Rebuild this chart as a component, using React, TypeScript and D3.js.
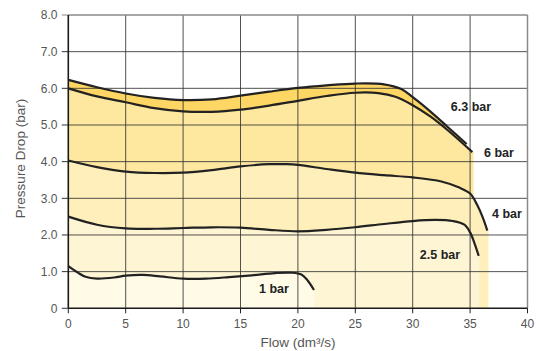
import React from "react";
import * as d3 from "d3";

const xTicks = [0, 5, 10, 15, 20, 25, 30, 35, 40];
const yTicks = [0, 1, 2, 3, 4, 5, 6, 7, 8];
const yTickLabels = ["0", "1.0", "2.0", "3.0", "4.0", "5.0", "6.0", "7.0", "8.0"];

const seriesNames = ["6.3 bar", "6 bar", "4 bar", "2.5 bar", "1 bar"];

const flow63 = [0, 2.5, 5, 7.5, 10, 12.5, 15, 17.5, 20, 22.5, 25, 27.5, 29, 30, 31.5, 33, 34.7];
const drop63 = [6.23, 6.03, 5.86, 5.74, 5.68, 5.7, 5.8, 5.91, 6.01, 6.08, 6.13, 6.11, 5.98, 5.76, 5.38, 4.96, 4.48];

const flow6 = [0, 2.5, 5, 7.5, 10, 12.5, 15, 17.5, 20, 22.5, 25, 27, 28.5, 30, 31.5, 33, 35.2];
const drop6 = [6.0, 5.78, 5.62, 5.46, 5.37, 5.36, 5.42, 5.53, 5.66, 5.79, 5.88, 5.87, 5.77, 5.54, 5.24, 4.87, 4.26];

const flow4 = [0, 2.5, 5, 7.5, 10, 12.5, 15, 17.5, 19, 20, 22.5, 25, 27.5, 30, 32.5, 34, 35, 35.6, 36.1, 36.5];
const drop4 = [4.03, 3.85, 3.73, 3.69, 3.7, 3.77, 3.87, 3.93, 3.93, 3.91, 3.8, 3.7, 3.63, 3.57, 3.46, 3.3, 3.13, 2.83, 2.48, 2.12];

const flow25 = [0, 2.5, 5, 7.5, 10, 12.5, 15, 17.5, 20, 22.5, 25, 27.5, 30, 32, 33.5, 34.5, 35, 35.4, 35.75];
const drop25 = [2.5, 2.28, 2.18, 2.17, 2.19, 2.21, 2.2, 2.14, 2.1, 2.14, 2.21, 2.3, 2.38, 2.41, 2.38, 2.28, 2.07, 1.76, 1.43];

const flow1 = [0, 0.8, 1.5, 2.5, 4, 5, 6.5, 8, 10, 12, 14, 16, 18, 19.5, 20.3, 20.8, 21.4];
const drop1 = [1.15, 0.98, 0.86, 0.81, 0.84, 0.89, 0.91, 0.87, 0.81, 0.81, 0.85, 0.9, 0.96, 0.97, 0.92, 0.78, 0.5];

const fillEnds = [34.7, 35.3, 36.6, 35.8, 21.45];
const fillColors = ["#fed663", "#fee89f", "#feefbb", "#fef5d4", "#fffbe6"];

const labelPos = [
  { x: 471, y: 111 },
  { x: 499, y: 157 },
  { x: 507, y: 218 },
  { x: 440, y: 259 },
  { x: 274, y: 293 },
];

export default function App() {
  const W = 540;
  const H = 351;
  const x = d3.scaleLinear().domain([0, 40]).range([68.3, 527.5]);
  const y = d3.scaleLinear().domain([0, 8]).range([308.3, 15]);

  const series = [
    [flow63, drop63],
    [flow6, drop6],
    [flow4, drop4],
    [flow25, drop25],
    [flow1, drop1],
  ].map(([fx, fy]) => fx.map((v, i) => [v, fy[i]] as [number, number]));

  const line = d3
    .line<[number, number]>()
    .x((d) => x(d[0]))
    .y((d) => y(d[1]))
    .curve(d3.curveCatmullRom.alpha(0.5));

  const areaPath = (pts: [number, number][], end: number) => {
    const l = line(pts) as string;
    const last = pts[pts.length - 1];
    return `${l}L${x(end)},${y(last[1])}L${x(end)},${y(0)}L${x(0)},${y(0)}Z`;
  };

  const font = "'Liberation Sans', Arial, Helvetica, sans-serif";

  return (
    <svg
      width={W}
      height={H}
      style={{ position: "absolute", left: 0, top: 0, background: "#fff" }}
    >
      {series.map((pts, i) => (
        <path key={"f" + i} d={areaPath(pts, fillEnds[i])} fill={fillColors[i]} stroke="none" />
      ))}
      {/* grid */}
      {yTicks.slice(1, -1).map((t) => (
        <line key={"gy" + t} x1={x(0)} x2={x(40)} y1={y(t)} y2={y(t)} stroke="#333" strokeOpacity={0.85} strokeWidth={1} />
      ))}
      {xTicks.slice(1, -1).map((t) => (
        <line key={"gx" + t} x1={x(t)} x2={x(t)} y1={y(0)} y2={y(8)} stroke="#333" strokeOpacity={0.85} strokeWidth={1} />
      ))}
      <line x1={x(0)} x2={x(40)} y1={y(8)} y2={y(8)} stroke="#8a8a8a" strokeWidth={1.5} />
      <line x1={x(40)} x2={x(40)} y1={y(0)} y2={y(8)} stroke="#8a8a8a" strokeWidth={1.5} />
      {/* ticks */}
      {yTicks.map((t) => (
        <line key={"ty" + t} x1={x(0) - 6.5} x2={x(0)} y1={y(t)} y2={y(t)} stroke={t === 8 ? "#8a8a8a" : "#333"} strokeWidth={1} />
      ))}
      {xTicks.map((t) => (
        <line key={"tx" + t} x1={x(t)} x2={x(t)} y1={y(0)} y2={y(0) + 5} stroke="#222" strokeWidth={1} />
      ))}
      {/* axes */}
      <line x1={x(0)} x2={x(40)} y1={y(0)} y2={y(0)} stroke="#1a1a1a" strokeWidth={1.6} />
      <line x1={x(0)} x2={x(0)} y1={y(0)} y2={y(8)} stroke="#1a1a1a" strokeWidth={1.6} />
      {/* curves */}
      {series.map((pts, i) => (
        <path key={"l" + i} d={line(pts) as string} fill="none" stroke="#222" strokeWidth={2.2} strokeLinecap="butt" />
      ))}
      {/* tick labels */}
      {yTicks.map((t, i) => (
        <text key={"yl" + t} x={57.5} y={y(t)} dy="0.36em" textAnchor="end" fontFamily={font} fontSize={12} fill="#555">
          {yTickLabels[i]}
        </text>
      ))}
      {xTicks.map((t) => (
        <text key={"xl" + t} x={x(t)} y={327.5} textAnchor="middle" fontFamily={font} fontSize={12} fill="#555">
          {t}
        </text>
      ))}
      <text x={298} y={347} textAnchor="middle" fontFamily={font} fontSize={13.5} fill="#555">
        Flow (dm³/s)
      </text>
      <text
        transform={`translate(24.5,158.5) rotate(-90)`}
        textAnchor="middle"
        fontFamily={font}
        fontSize={13.5}
        fill="#555"
      >
        Pressure Drop (bar)
      </text>
      {/* series labels */}
      {seriesNames.map((n, i) => (
        <text key={"sl" + i} x={labelPos[i].x} y={labelPos[i].y} textAnchor="middle" fontFamily={font} fontSize={12.5} fontWeight="bold" fill="#222">
          {n}
        </text>
      ))}
    </svg>
  );
}
